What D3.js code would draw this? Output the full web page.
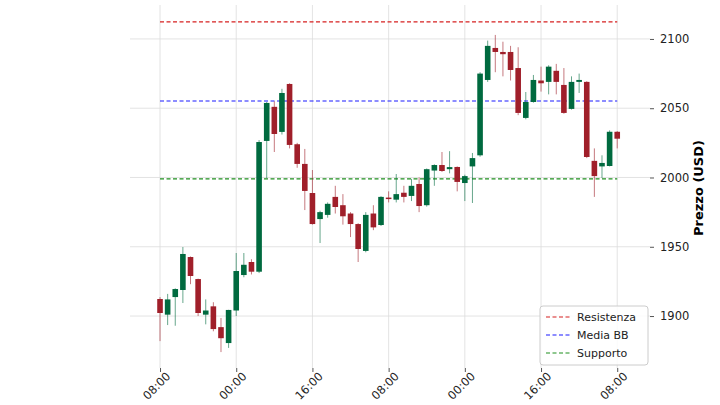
<!DOCTYPE html>
<html>
<head>
<meta charset="utf-8">
<script src="https://cdn.jsdelivr.net/npm/d3@7"></script>
<style>
  body { margin: 0; background: #fff; }
  text { font-family: "DejaVu Sans", sans-serif; }
</style>
</head>
<body>
<svg id="chart" width="720" height="405"></svg>
<script>
// OHLC per candela
const opens  = [1912.3,1901,1913.7,1918.8,1942.6,1926.7,1901,1907,1892,1880.5,
                1904,1929.6,1939,1932,2026.4,2051,2032.9,2067.5,2024,2009.8,
                1988.8,1970,1973,1986,1980,1974,1966.4,1947,1974,1965.7,
                1985.5,1984,1989,1986.7,1995.3,1980,2005,2009,2006,2007.6,
                1996,2008,2016,2070.4,2093.5,2090.6,2090.6,2079,2043,2054.5,
                2070,2069,2077,2066.8,2049.5,2069,2069,2012,2008,2008.3,2033];
const closes = [1902.2,1912,1919.5,1944.8,1928.9,1902.2,1904,1890.6,1884,1904.4,
                1932.5,1937,1932,2025.6,2053.8,2031.4,2061,2023.5,2009.8,1990.3,
                1966.4,1975,1981,1978.7,1972,1966.4,1948.4,1973,1964,1986,
                1984.5,1988,1986,1994,1979.4,2006,2009,2004.7,2007.5,1996.8,
                2001,2014,2075,2095,2090.6,2089,2077.6,2046.6,2054.5,2070.4,
                2068,2080,2069,2046.6,2069,2070.4,2014.8,2001,2010.5,2033,2028];
const highs  = [1913.7,1916,1920,1949.8,1943,1927,1912,1910,1898.6,1904.5,
                1945.5,1945.5,1941,2027,2054.5,2055,2064,2068,2025,2020.6,
                2005.4,1976,1982,1994,1988,1975,1967,1975,1980,1986.5,
                1990,2002.5,1994,1999,2000,2006.5,2009.5,2018.4,2019,2008,
                2002,2017.7,2076,2098.8,2102.9,2098,2095,2094,2061.7,2074,
                2080,2081,2082,2079,2073,2075,2069.5,2021,2016,2034,2033.5];
const lows   = [1881.9,1893.5,1893,1909.4,1923,1900,1894,1889,1874,1877,
                1900,1928,1930,1931,1999.6,2018.4,2031,2021,2007,1976.5,
                1966,1952.7,1971,1974,1966,1957,1939,1946,1962,1965,
                1982,1982,1982,1983,1975,1979,1994,2004,2003,1990,
                1983,1981.6,2015,2069,2076,2073,2070,2045,2042,2054,
                2062,2060,2060,2046,2049,2061,2014,1986,1999.6,2008,2021];

const xTickIdx    = [0, 10, 20, 30, 40, 50, 60];
const xTickLabels = ["08:00","00:00","16:00","08:00","00:00","16:00","08:00"];
const yTicks      = [1900, 1950, 2000, 2050, 2100];

const levelNames  = ["Resistenza", "Media BB", "Supporto"];
const levelValues = [2112.3, 2055.2, 1999];
const levelColors = ["#d62020", "#1a1aff", "#1f8f1f"];

const candles = opens.map((o, i) => ({i, o, c: closes[i], h: highs[i], l: lows[i]}));

const mLeft = 130, mRight = 650, mTop = 5, mBottom = 368;
const svg = d3.select("#chart");

const x = d3.scaleLinear().domain([-3.94, 64.3]).range([mLeft, mRight]);
const y = d3.scaleLinear().domain([1862.5, 2124.5]).range([mBottom, mTop]);

const up = "#006a3f", down = "#a01f2a";

// griglia
const grid = svg.append("g").attr("stroke", "#dcdcdc").attr("stroke-width", 0.8);
grid.selectAll(".gx").data(xTickIdx).enter().append("line")
  .attr("x1", d => x(d)).attr("x2", d => x(d)).attr("y1", mTop).attr("y2", mBottom);
grid.selectAll(".gy").data(yTicks).enter().append("line")
  .attr("x1", mLeft).attr("x2", mRight).attr("y1", d => y(d)).attr("y2", d => y(d));

// livelli
svg.selectAll(".lvl").data(levelValues).enter().append("line")
  .attr("x1", x(0)).attr("x2", x(60))
  .attr("y1", d => y(d)).attr("y2", d => y(d))
  .attr("stroke", (d, i) => levelColors[i]).attr("stroke-width", 1.1)
  .attr("stroke-dasharray", "4,2.5");

// candele
const g = svg.append("g");
g.selectAll(".wick").data(candles).enter().append("line")
  .attr("x1", d => x(d.i)).attr("x2", d => x(d.i))
  .attr("y1", d => y(d.h)).attr("y2", d => y(d.l))
  .attr("stroke", d => d.c >= d.o ? up : down).attr("stroke-opacity", 0.6).attr("stroke-width", 1);
g.selectAll(".body").data(candles).enter().append("rect")
  .attr("x", d => x(d.i) - 2.8).attr("width", 5.6)
  .attr("y", d => y(Math.max(d.o, d.c)))
  .attr("height", d => Math.max(1.5, Math.abs(y(d.o) - y(d.c))))
  .attr("fill", d => d.c >= d.o ? up : down);

// assi
const yAxis = svg.append("g").attr("transform", `translate(${mRight},0)`)
  .call(d3.axisRight(y).tickValues(yTicks).tickFormat(d3.format("d")).tickSize(4).tickPadding(6));
const xAxis = svg.append("g").attr("transform", `translate(0,${mBottom})`)
  .call(d3.axisBottom(x).tickValues(xTickIdx).tickFormat((d, i) => xTickLabels[i]).tickSize(4));
[xAxis, yAxis].forEach(a => {
  a.select(".domain").remove();
  a.selectAll(".tick line").attr("stroke", "#555");
  a.selectAll("text").attr("font-size", 11.5).attr("fill", "#222");
});
xAxis.selectAll("text")
  .attr("text-anchor", "end").attr("dx", "0.1em").attr("dy", "0.6em")
  .attr("transform", "rotate(-45)");

svg.append("text").attr("transform", "translate(703,188) rotate(-90)")
  .attr("text-anchor", "middle").attr("font-size", 13).attr("font-weight", "bold")
  .text("Prezzo (USD)");

// legenda
const lg = svg.append("g").attr("transform", "translate(540,306)");
lg.append("rect").attr("width", 108).attr("height", 59).attr("rx", 3)
  .attr("fill", "#fff").attr("fill-opacity", 0.85).attr("stroke", "#ccc");
levelNames.forEach((n, i) => {
  lg.append("line").attr("x1", 6).attr("x2", 30).attr("y1", 11 + i * 18).attr("y2", 11 + i * 18)
    .attr("stroke", levelColors[i]).attr("stroke-width", 1.1).attr("stroke-dasharray", "4,2.5");
  lg.append("text").attr("x", 37).attr("y", 15 + i * 18).attr("font-size", 11).attr("fill", "#222").text(n);
});
</script>
</body>
</html>
